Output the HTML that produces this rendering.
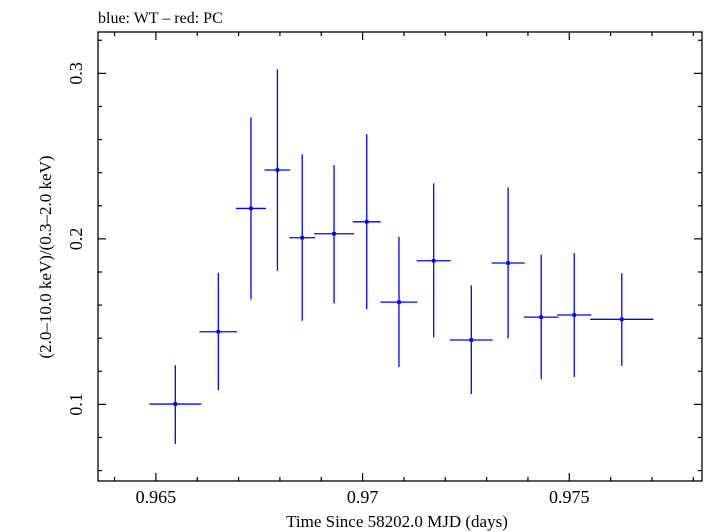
<!DOCTYPE html>
<html><head><meta charset="utf-8"><style>
html,body{margin:0;padding:0;background:#fff;}
svg{display:block;font-family:"Liberation Serif",serif;}
</style></head><body>
<svg id="chart" width="705" height="532" viewBox="0 0 705 532" xmlns="http://www.w3.org/2000/svg">
<text x="98" y="23" font-size="16">blue: WT – red: PC</text>
<rect x="98" y="32" width="604" height="449" fill="none" stroke="#000" stroke-width="1.3"/>
<g id="ticks"></g>
<g id="marks"></g>
<text x="397" y="527" font-size="17" text-anchor="middle">Time Since 58202.0 MJD (days)</text>
<text transform="translate(51,257) rotate(-90)" font-size="17" text-anchor="middle">(2.0–10.0 keV)/(0.3–2.0 keV)</text>
</svg>
<script>
const times = [0.96547,0.96651,0.96730,0.96794,0.96854,0.96931,0.97010,0.97088,0.97172,0.97263,0.97352,0.97432,0.97512,0.97627];
const timeErr = [0.00063,0.000456,0.000363,0.000311,0.000314,0.000484,0.000339,0.000448,0.000411,0.000516,0.000399,0.00042,0.000411,0.000766];
const ratios = [0.1002,0.1439,0.2184,0.2416,0.2007,0.2031,0.2103,0.1618,0.1868,0.1389,0.1854,0.1527,0.154,0.1514];
const ratioHi = [0.1237,0.1795,0.2734,0.3024,0.2511,0.2446,0.2633,0.2013,0.2335,0.1719,0.2311,0.1904,0.1914,0.1792];
const ratioLo = [0.076,0.1086,0.1634,0.1807,0.1505,0.161,0.1576,0.1225,0.1405,0.1062,0.1399,0.1151,0.1165,0.1233];
const xTickLabels = ["0.965","0.97","0.975"];
const yTickLabels = ["0.1","0.2","0.3"];

const X0=98,X1=702,Y0=32,Y1=481;
const tMin=0.9636, tMax=0.97821, vMin=0.0537, vMax=0.325;
const xs=t=>X0+(t-tMin)/(tMax-tMin)*(X1-X0);
const ys=v=>Y1-(v-vMin)/(vMax-vMin)*(Y1-Y0);
const NS="http://www.w3.org/2000/svg";
function mk(tag,attrs,parent){const e=document.createElementNS(NS,tag);for(const k in attrs)e.setAttribute(k,attrs[k]);parent.appendChild(e);return e;}
const tg=document.getElementById('ticks'), mg=document.getElementById('marks');

for(let i=964;i<=978;i++){
  const t=i/1000, x=xs(t), major=(i%5===0), L=major?8:4;
  let l=mk('line',{x1:x,x2:x,y1:Y1,y2:Y1-L,stroke:'#000','stroke-width':1.2},tg);
  
  
  l=mk('line',{x1:x,x2:x,y1:Y0,y2:Y0+L,stroke:'#000','stroke-width':1.2},tg);
  
  
}
xTickLabels.forEach(s=>{
  const t=mk('text',{x:xs(parseFloat(s)),y:503,'font-size':18,'text-anchor':'middle'},tg);
  t.textContent=s;
  
  
});
for(let i=4;i<=32;i+=2){
  const v=i/100, y=ys(v), major=(i%10===0), L=major?8:4;
  if(y<Y0||y>Y1) continue;
  let l=mk('line',{x1:X0,x2:X0+L,y1:y,y2:y,stroke:'#000','stroke-width':1.2},tg);
  
  
  l=mk('line',{x1:X1,x2:X1-L,y1:y,y2:y,stroke:'#000','stroke-width':1.2},tg);
  
  
}
yTickLabels.forEach(s=>{
  const y=ys(parseFloat(s));
  const t=mk('text',{transform:`translate(82,${y}) rotate(-90)`,'font-size':18,'text-anchor':'middle'},tg);
  t.textContent=s;
  
  
});
times.forEach((t,i)=>{
  const g=mk('g',{},mg);
  
  
  const cx=xs(t), cy=ys(ratios[i]);
  mk('line',{x1:xs(t-timeErr[i]),x2:xs(t+timeErr[i]),y1:cy,y2:cy,stroke:'#0000ff','stroke-width':1.3},g);
  mk('line',{x1:cx,x2:cx,y1:ys(ratioHi[i]),y2:ys(ratioLo[i]),stroke:'#0000ff','stroke-width':1.3},g);
  mk('rect',{x:cx-1.8,y:cy-1.8,width:3.6,height:3.6,fill:'#0000ff'},g);
});
</script>
</body></html>
